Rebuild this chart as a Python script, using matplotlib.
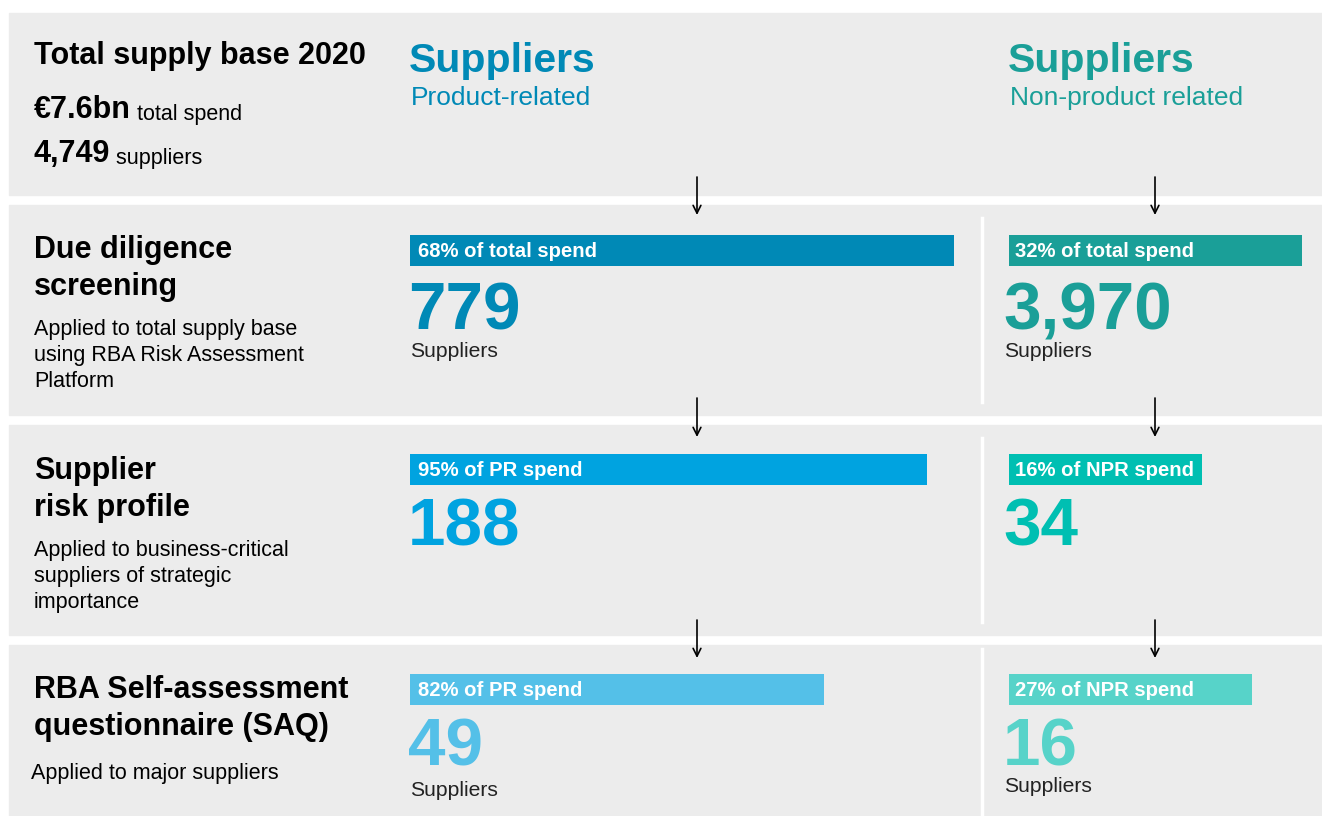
import matplotlib.pyplot as plt
from matplotlib.patches import Rectangle

plt.rcParams['font.family'] = ['Liberation Sans', 'DejaVu Sans']

# data
total_spend = "€7.6bn"
total_suppliers = "4,749"
stage_titles = [["Due diligence", "screening"],
                ["Supplier", "risk profile"],
                ["RBA Self-assessment", "questionnaire (SAQ)"]]
stage_notes = [["Applied to total supply base", "using RBA Risk Assessment", "Platform"],
               ["Applied to business-critical", "suppliers of strategic", "importance"],
               ["Applied to major suppliers"]]
pr_spend = ["68% of total spend", "95% of PR spend", "82% of PR spend"]
npr_spend = ["32% of total spend", "16% of NPR spend", "27% of NPR spend"]
pr_counts = [779, 188, 49]
npr_counts = [3970, 34, 16]
show_label = [True, False, True]

# layout (pixels)
pr_bar_w = [544, 517, 414]
npr_bar_w = [293, 193, 243]
pr_colors = ["#0089b6", "#00a3e0", "#54c0e8"]
npr_colors = ["#1a9f98", "#00bfb2", "#57d3c9"]
row_top = [205, 425, 645]
row_bot = [415, 635, 816]
sep_span = [(218, 402), (438, 622), (649, 816)]
title_base = [258, 479, 698]
note_base = [335, 556, 779]
GRAY = "#ececec"

fig = plt.figure(figsize=(13.22, 8.16), dpi=100)
ax = fig.add_axes([0, 0, 1, 1])
ax.set_xlim(0, 1322)
ax.set_ylim(816, 0)
ax.axis('off')

# header panel
ax.add_patch(Rectangle((9, 13), 1313, 182, color=GRAY, zorder=0))
ax.text(34, 64, "Total supply base 2020", fontsize=22, fontweight='bold', va='baseline')
t = ax.text(34, 118, total_spend, fontsize=22, fontweight='bold', va='baseline')
ax.annotate(" total spend", xycoords=t, xy=(1, 0), va='bottom', fontsize=15.5)
t = ax.text(34, 162, total_suppliers, fontsize=22, fontweight='bold', va='baseline')
ax.annotate(" suppliers", xycoords=t, xy=(1, 0), va='bottom', fontsize=15.5)

ax.text(409, 72, "Suppliers", fontsize=29.5, fontweight='bold', color=pr_colors[0], va='baseline')
ax.text(411, 105, "Product-related", fontsize=19, color=pr_colors[0], va='baseline')
ax.text(1008, 72, "Suppliers", fontsize=29.5, fontweight='bold', color=npr_colors[0], va='baseline')
ax.text(1010, 105, "Non-product related", fontsize=19, color=npr_colors[0], va='baseline')

for i in range(3):
    top = row_top[i]
    ax.add_patch(Rectangle((9, top), 1313, row_bot[i] - top, color=GRAY, zorder=0))
    y0, y1 = sep_span[i]
    ax.plot([982, 982], [y0, y1], color='white', lw=2.5, zorder=1)

    # left column: stage title and note
    for k, line in enumerate(stage_titles[i]):
        ax.text(34, title_base[i] + 37 * k, line, fontsize=22, fontweight='bold', va='baseline')
    note_x = 31 if i == 2 else 34
    for k, line in enumerate(stage_notes[i]):
        ax.text(note_x, note_base[i] + 26 * k, line, fontsize=15.5, va='baseline')

    # spend bars
    bar_y = top + 45 if i == 0 else top + 44
    ax.barh(bar_y, pr_bar_w[i], left=410, height=31, color=pr_colors[i], zorder=2)
    ax.barh(bar_y, npr_bar_w[i], left=1009, height=31, color=npr_colors[i], zorder=2)
    ax.text(418, bar_y + 7, pr_spend[i], color='white', fontsize=14.6, fontweight='bold',
            va='baseline', zorder=3)
    ax.text(1015, bar_y + 7, npr_spend[i], color='white', fontsize=14.6, fontweight='bold',
            va='baseline', zorder=3)

    # supplier counts
    num_y = top + 125 if i == 0 else top + 120
    ax.text(408, num_y, f"{pr_counts[i]:,}", fontsize=48.5, fontweight='bold',
            color=pr_colors[i], va='baseline')
    ax.text(1003, num_y, f"{npr_counts[i]:,}", fontsize=48.5, fontweight='bold',
            color=npr_colors[i], va='baseline')
    if show_label[i]:
        ax.text(410, num_y + (27 if i == 0 else 31), "Suppliers", fontsize=15.2,
                color='#222222', va='baseline')
        ax.text(1004, num_y + 27, "Suppliers", fontsize=15.2, color='#222222', va='baseline')

# flow arrows
for x in [697, 1155]:
    for (ya, yb) in [(177, 215), (398, 437), (620, 658)]:
        ax.annotate("", xy=(x, yb), xytext=(x, ya),
                    arrowprops=dict(arrowstyle='->', color='black', lw=1.2,
                                    mutation_scale=14, shrinkA=0, shrinkB=0), zorder=4)

fig.savefig("out.png", dpi=100, facecolor='white')
